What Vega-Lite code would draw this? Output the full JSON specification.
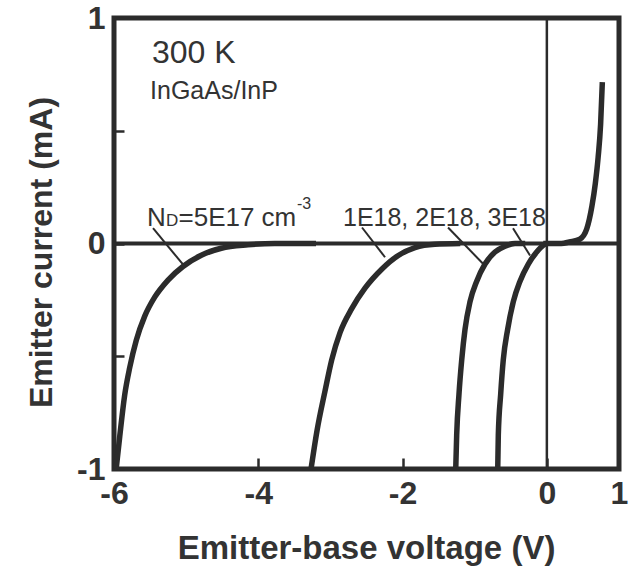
{
  "$schema": "https://vega.github.io/schema/vega-lite/v6.json",
  "width": 505,
  "height": 451,
  "autosize": {"type": "none"},
  "padding": {"left": 114, "top": 18, "right": 21, "bottom": 106},
  "background": "white",
  "config": {
    "view": {"stroke": "#2b2b2b", "strokeWidth": 5},
    "font": "Liberation Sans"
  },
  "datasets": {
    "curves": [
      {"s": "5E17", "V": -5.97, "I": -1.0},
      {"s": "5E17", "V": -5.92, "I": -0.854},
      {"s": "5E17", "V": -5.852, "I": -0.672},
      {"s": "5E17", "V": -5.782, "I": -0.55},
      {"s": "5E17", "V": -5.691, "I": -0.429},
      {"s": "5E17", "V": -5.574, "I": -0.322},
      {"s": "5E17", "V": -5.436, "I": -0.238},
      {"s": "5E17", "V": -5.251, "I": -0.162},
      {"s": "5E17", "V": -5.044, "I": -0.102},
      {"s": "5E17", "V": -4.79, "I": -0.052},
      {"s": "5E17", "V": -4.512, "I": -0.021},
      {"s": "5E17", "V": -4.143, "I": -0.006},
      {"s": "5E17", "V": -3.772, "I": 0},
      {"s": "5E17", "V": -3.2, "I": 0},
      {"s": "1E18", "V": -3.269, "I": -1.0},
      {"s": "1E18", "V": -3.186, "I": -0.83},
      {"s": "1E18", "V": -3.075, "I": -0.654},
      {"s": "1E18", "V": -2.982, "I": -0.516},
      {"s": "1E18", "V": -2.867, "I": -0.395},
      {"s": "1E18", "V": -2.705, "I": -0.289},
      {"s": "1E18", "V": -2.521, "I": -0.198},
      {"s": "1E18", "V": -2.289, "I": -0.114},
      {"s": "1E18", "V": -2.059, "I": -0.053},
      {"s": "1E18", "V": -1.828, "I": -0.018},
      {"s": "1E18", "V": -1.551, "I": -0.003},
      {"s": "1E18", "V": -1.2, "I": 0},
      {"s": "2E18", "V": -1.263, "I": -1.0},
      {"s": "2E18", "V": -1.25, "I": -0.85},
      {"s": "2E18", "V": -1.218, "I": -0.668},
      {"s": "2E18", "V": -1.18, "I": -0.516},
      {"s": "2E18", "V": -1.134, "I": -0.38},
      {"s": "2E18", "V": -1.065, "I": -0.258},
      {"s": "2E18", "V": -0.972, "I": -0.167},
      {"s": "2E18", "V": -0.857, "I": -0.091},
      {"s": "2E18", "V": -0.719, "I": -0.038},
      {"s": "2E18", "V": -0.58, "I": -0.012},
      {"s": "2E18", "V": -0.441, "I": 0},
      {"s": "2E18", "V": -0.3, "I": 0},
      {"s": "3E18", "V": -0.681, "I": -1.0},
      {"s": "3E18", "V": -0.673, "I": -0.85},
      {"s": "3E18", "V": -0.64, "I": -0.668},
      {"s": "3E18", "V": -0.604, "I": -0.516},
      {"s": "3E18", "V": -0.543, "I": -0.38},
      {"s": "3E18", "V": -0.465, "I": -0.258},
      {"s": "3E18", "V": -0.372, "I": -0.167},
      {"s": "3E18", "V": -0.257, "I": -0.091},
      {"s": "3E18", "V": -0.141, "I": -0.038},
      {"s": "3E18", "V": -0.049, "I": -0.008},
      {"s": "3E18", "V": 0.0, "I": 0},
      {"s": "fwd", "V": -0.05, "I": 0},
      {"s": "fwd", "V": 0.2, "I": 0},
      {"s": "fwd", "V": 0.312, "I": 0.007},
      {"s": "fwd", "V": 0.456, "I": 0.019},
      {"s": "fwd", "V": 0.553, "I": 0.065},
      {"s": "fwd", "V": 0.625, "I": 0.166},
      {"s": "fwd", "V": 0.672, "I": 0.267},
      {"s": "fwd", "V": 0.711, "I": 0.383},
      {"s": "fwd", "V": 0.745, "I": 0.528},
      {"s": "fwd", "V": 0.769, "I": 0.716}
    ],
    "leaders": [
      {"s": "5E17", "V": -5.459, "I": 0.068, "V2": -5.044, "I2": -0.093},
      {"s": "1E18", "V": -2.562, "I": 0.071, "V2": -2.243, "I2": -0.061},
      {"s": "2E18", "V": -1.37, "I": 0.071, "V2": -0.881, "I2": -0.091},
      {"s": "3E18", "V": -0.469, "I": 0.068, "V2": -0.233, "I2": -0.053}
    ],
    "zeros": [{"V": 0, "I": 0}],
    "notes": [
      {"k": "temp", "V": -5.473, "I": 0.8, "t": "300 K"},
      {"k": "mat", "V": -5.5, "I": 0.643, "t": "InGaAs/InP"},
      {"k": "nd", "V": -5.543, "I": 0.077, "t": "N"},
      {"k": "nd", "V": -5.106, "I": 0.077, "t": "=5E17 cm"},
      {"k": "sub", "V": -5.279, "I": 0.077, "t": "D"},
      {"k": "sup", "V": -3.463, "I": 0.151, "t": "-3"},
      {"k": "others", "V": -2.826, "I": 0.077, "t": "1E18, 2E18, 3E18"}
    ]
  },
  "layer": [
    {
      "data": {"name": "curves"},
      "mark": {"type": "line", "color": "#2b2b2b", "strokeWidth": 5.5, "interpolate": "monotone"},
      "encoding": {
        "x": {
          "field": "V", "type": "quantitative",
          "scale": {"domain": [-6, 1], "nice": false, "zero": false},
          "axis": {
            "title": "Emitter-base voltage (V)",
            "values": [-6, -4, -2, 0, 1],
            "labelExpr": "datum.value < 0 ? '-' + abs(datum.value) : '' + datum.value",
            "tickSize": -11, "tickWidth": 2.5, "tickColor": "#2b2b2b",
            "domain": false, "grid": false,
            "labelFontSize": 32, "labelFontWeight": "bold", "labelColor": "#333333",
            "labelPadding": 20, "labelFlush": false, "labelOverlap": false, "labelBound": false,
            "titleFontSize": 33, "titleFontWeight": "bold", "titleColor": "#333333",
            "titleX": 252, "titleY": 89, "titleBaseline": "alphabetic", "titleAnchor": "middle", "titleAlign": "center"
          }
        },
        "y": {
          "field": "I", "type": "quantitative",
          "scale": {"domain": [-1, 1], "nice": false},
          "axis": {
            "title": "Emitter current (mA)",
            "values": [-1, -0.5, 0, 0.5, 1],
            "labelExpr": "abs(datum.value) == 0.5 ? '' : (datum.value < 0 ? '-' + abs(datum.value) : '' + datum.value)",
            "tickSize": -10, "tickWidth": 2.5, "tickColor": "#2b2b2b",
            "domain": false, "grid": false,
            "labelFontSize": 32, "labelFontWeight": "bold", "labelColor": "#333333",
            "labelPadding": 19, "labelFlush": false, "labelOverlap": false, "labelBound": false,
            "titleFontSize": 32, "titleFontWeight": "bold", "titleColor": "#333333",
            "titleX": -63, "titleY": 234, "titleBaseline": "alphabetic", "titleAngle": -90, "titleAlign": "center"
          }
        },
        "detail": {"field": "s"}
      }
    },
    {
      "data": {"name": "zeros"},
      "mark": {"type": "rule", "color": "#2b2b2b", "strokeWidth": 4},
      "encoding": {"y": {"field": "I", "type": "quantitative"}}
    },
    {
      "data": {"name": "zeros"},
      "mark": {"type": "rule", "color": "#2b2b2b", "strokeWidth": 2.5},
      "encoding": {"x": {"field": "V", "type": "quantitative"}}
    },
    {
      "data": {"name": "leaders"},
      "mark": {"type": "rule", "color": "#2b2b2b", "strokeWidth": 2},
      "encoding": {
        "x": {"field": "V", "type": "quantitative"},
        "y": {"field": "I", "type": "quantitative"},
        "x2": {"field": "V2"},
        "y2": {"field": "I2"}
      }
    },
    {
      "data": {"name": "notes"},
      "transform": [{"filter": "datum.k == 'temp'"}],
      "mark": {"type": "text", "align": "left", "baseline": "alphabetic", "fontSize": 32, "color": "#333333"},
      "encoding": {"x": {"field": "V", "type": "quantitative"}, "y": {"field": "I", "type": "quantitative"}, "text": {"field": "t"}}
    },
    {
      "data": {"name": "notes"},
      "transform": [{"filter": "datum.k == 'mat'"}],
      "mark": {"type": "text", "align": "left", "baseline": "alphabetic", "fontSize": 25, "color": "#333333"},
      "encoding": {"x": {"field": "V", "type": "quantitative"}, "y": {"field": "I", "type": "quantitative"}, "text": {"field": "t"}}
    },
    {
      "data": {"name": "notes"},
      "transform": [{"filter": "datum.k == 'nd'"}],
      "mark": {"type": "text", "align": "left", "baseline": "alphabetic", "fontSize": 26, "color": "#333333"},
      "encoding": {"x": {"field": "V", "type": "quantitative"}, "y": {"field": "I", "type": "quantitative"}, "text": {"field": "t"}}
    },
    {
      "data": {"name": "notes"},
      "transform": [{"filter": "datum.k == 'sub'"}],
      "mark": {"type": "text", "align": "left", "baseline": "alphabetic", "fontSize": 17, "color": "#333333"},
      "encoding": {"x": {"field": "V", "type": "quantitative"}, "y": {"field": "I", "type": "quantitative"}, "text": {"field": "t"}}
    },
    {
      "data": {"name": "notes"},
      "transform": [{"filter": "datum.k == 'sup'"}],
      "mark": {"type": "text", "align": "left", "baseline": "alphabetic", "fontSize": 16, "color": "#333333"},
      "encoding": {"x": {"field": "V", "type": "quantitative"}, "y": {"field": "I", "type": "quantitative"}, "text": {"field": "t"}}
    },
    {
      "data": {"name": "notes"},
      "transform": [{"filter": "datum.k == 'others'"}],
      "mark": {"type": "text", "align": "left", "baseline": "alphabetic", "fontSize": 25, "color": "#333333"},
      "encoding": {"x": {"field": "V", "type": "quantitative"}, "y": {"field": "I", "type": "quantitative"}, "text": {"field": "t"}}
    }
  ]
}
